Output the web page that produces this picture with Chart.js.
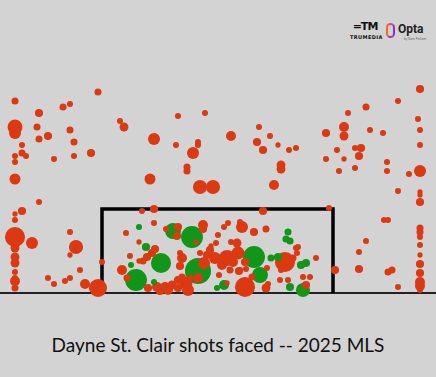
<!DOCTYPE html>
<html>
<head>
<meta charset="utf-8">
<script src="https://cdn.jsdelivr.net/npm/chart.js@4"></script>
<style>
  html, body { margin: 0; padding: 0; background: #d3d3d3; }
  body { width: 436px; height: 377px; position: relative; overflow: hidden; font-family: Lato, sans-serif; }
  #wrap { position: absolute; left: 0; top: 0; width: 436px; height: 300px; }
  #title { position: absolute; left: 0; top: 332px; width: 436px; text-align: center; font-size: 19px; color: #111; line-height: 26px; }
  .tm { position: absolute; left: 350px; top: 21px; width: 30px; text-align: center; }
  .tm .icon { font: bold 11px "DejaVu Sans", sans-serif; color: #111; letter-spacing: -1px; line-height: 11px; }
  .tm .txt { font: bold 5px "DejaVu Sans", sans-serif; color: #111; letter-spacing: 0.4px; line-height: 6px; margin-top: 2px; }
  .opta-mark { position: absolute; left: 386px; top: 23px; width: 5px; height: 11px; border: 2px solid #f36b21; border-right-color: #8a2be2; border-top-color: #e8457a; border-bottom-color: #b03aa8; border-radius: 5px; }
  .opta-txt { position: absolute; left: 398px; top: 22px; font: bold 12px Roboto, sans-serif; color: #222; }
  .opta-sub { position: absolute; left: 404px; top: 37px; font: 3px sans-serif; color: #666; }
</style>
</head>
<body>
<div class="tm"><div class="icon">=TM</div><div class="txt">TRUMEDIA</div></div>
<div class="opta-mark"></div>
<div class="opta-txt">Opta</div>
<div class="opta-sub">by Stats Perform</div>
<div id="wrap"><canvas id="shotsChart" width="436" height="300"></canvas></div>
<div id="title">Dayne St. Clair shots faced -- 2025 MLS</div>
<script>
// Ubicación de los tiros en la boca del arco (unidades ~pies, centro del arco = 0, suelo = 0)
const shotX = [
  -20.25, -11.95, -15.45, -14.75, -17.85, -20.25, -20.25, -18.05, -14.75, -16.95,
  -17.85, -14.35, -19.55, -19.55, -19.15, -20.25, -20.25, -16.35, -14.35, -12.65,
  -20.25, -9.75, -9.35, -6.35, -6.75, -3.95, -1.25, -4.15, -1.95, -1.95,
  -2.45, -3.05, -3.05, -1.75, -0.45, 1.35, 4.15, 3.95, 5.25, 4.55,
  6.05, 7.15, 7.85, 6.35, 6.35, 5.65, 10.85, 12.65, 12.65, 13.05,
  14.85, 18.05, 20.25, 20.05, 20.25, 20.25, 15.25, 16.55, 11.95, 13.75,
  14.35, 14.15, 12.65, 10.85, 12.15, 13.75, 16.95, 16.95, 19.15, 20.25,
  -17.85, -19.55, -20.25, -20.25, -20.25, -18.55, -20.25, -20.25, -20.25, -20.25,
  -20.25, -20.25, -20.25, -16.95, -16.35, -14.15, -14.75, -14.75, -13.75, -15.25,
  -14.75, -13.25, -11.95, -11.55, 18.05, 20.25, 20.25, 20.25, 16.65, 17.05,
  20.25, 20.25, 20.25, 20.25, 20.25, 20.25, 20.25, 20.25, 20.25, 20.25,
  18.05, 17.05, 17.45, 14.15, 14.85, 14.15, 11.75, 11.15, 4.55, -7.55,
  -6.35, -6.35, -7.85, -9.15, -7.85, -7.15, -6.25, -6.55, -7.05, -7.45,
  -8.75, -7.85, -8.65, -9.55, -9.05, -5.65, -8.15, -6.35, -6.95, -6.05,
  -5.25, -4.55, -3.95, -3.55, -5.15, -4.45, -3.95, -4.05, -2.55, -2.15,
  -1.45, -1.45, 0.05, 0.65, 1.05, 2.25, 2.45, 3.65, 4.85, -0.65,
  -0.15, 1.35, 1.95, -1.75, -3.75, -3.55, -3.75, -1.05, -1.35, 0.95,
  2.05, 1.25, 0.15, -1.95, -1.95, -2.75, -3.15, -2.95, -3.95, 0.65,
  0.95, -0.05, 2.75, 3.45, 2.25, 2.85, 3.65, 4.25, 2.15, 4.95,
  4.85, 5.05, 7.05, 6.85, 7.25, 7.85, 6.75, 5.35, 6.05, 6.35,
  6.25, 7.05, 7.25, 8.55, 8.35, 8.85, 8.85, 8.55, 9.25, 9.85,
  8.05, 7.95, 7.55, -0.25, 0.45, 1.55, -0.75, 2.75, -4.95, -5.75
];
const shotY = [
  19.2, 20.1, 18.6, 18.9, 18.0, 16.6, 16.0, 16.6, 16.3, 15.7,
  15.4, 15.1, 14.8, 14.0, 13.7, 13.7, 13.1, 13.4, 13.7, 14.0,
  11.4, 17.2, 16.6, 15.4, 11.4, 17.7, 18.0, 14.8, 15.1, 14.8,
  14.0, 12.6, 12.2, 10.6, 10.6, 15.7, 16.6, 15.1, 15.7, 14.3,
  14.8, 14.3, 14.5, 12.8, 12.4, 10.8, 16.0, 16.6, 15.7, 18.0,
  18.6, 19.2, 20.4, 17.4, 16.3, 14.8, 16.3, 16.0, 14.3, 14.5,
  14.5, 13.7, 13.4, 13.4, 12.2, 12.5, 13.1, 12.2, 11.9, 12.2,
  9.1, 8.2, 7.9, 7.3, 5.6, 5.0, 4.5, 3.6, 3.0, 2.1,
  1.5, 1.2, 0.5, 1.5, 0.9, 4.6, 6.1, 3.8, 2.3, 1.2,
  1.5, 0.9, 0.5, 3.1, 10.2, 10.1, 9.8, 9.1, 7.3, 7.3,
  6.5, 6.1, 5.6, 4.8, 3.8, 2.9, 2.0, 1.1, 0.7, 0.3,
  0.6, 2.1, 2.3, 4.1, 5.2, 2.4, 2.3, 8.5, 8.2, 8.2,
  8.4, 7.0, 6.6, 6.0, 5.1, 4.6, 4.4, 4.0, 3.6, 3.2,
  3.7, 3.2, 2.8, 2.3, 1.5, 3.0, 1.3, 1.1, 0.5, 0.6,
  0.6, 0.8, 1.3, 1.6, 6.4, 6.2, 6.6, 5.7, 5.6, 5.1,
  6.8, 6.4, 5.8, 6.6, 7.0, 7.1, 6.6, 6.1, 6.4, 4.7,
  5.0, 5.1, 5.0, 4.0, 4.0, 3.5, 2.7, 3.8, 3.0, 3.5,
  4.0, 2.3, 1.8, 2.2, 1.5, 1.5, 1.0, 0.3, 0.5, 0.8,
  1.0, 0.5, 0.6, 1.6, 2.3, 2.4, 3.6, 1.8, 2.2, 2.5,
  0.5, 0.9, 6.1, 5.4, 5.2, 4.5, 3.1, 3.5, 3.6, 2.3,
  1.3, 1.3, 0.6, 0.3, 2.8, 3.0, 0.8, 1.6, 1.6, 3.5,
  4.6, 4.0, 3.5, 3.5, 2.8, 3.1, 4.3, 3.1, 0.3, 0.2
];
// xG de cada tiro (define el tamaño del círculo)
const shotXg = [
  0.08, 0.08, 0.08, 0.04, 0.12, 0.38, 0.27, 0.08, 0.08, 0.12,
  0.08, 0.08, 0.04, 0.08, 0.04, 0.04, 0.04, 0.04, 0.04, 0.12,
  0.23, 0.04, 0.15, 0.27, 0.23, 0.04, 0.04, 0.04, 0.04, 0.04,
  0.27, 0.08, 0.08, 0.35, 0.35, 0.19, 0.04, 0.12, 0.04, 0.12,
  0.01, 0.04, 0.04, 0.15, 0.15, 0.19, 0.12, 0.19, 0.15, 0.04,
  0.08, 0.04, 0.12, 0.04, 0.04, 0.04, 0.04, 0.04, 0.04, 0.04,
  0.12, 0.12, 0.01, 0.04, 0.04, 0.04, 0.04, 0.04, 0.04, 0.27,
  0.04, 0.12, 0.01, 0.04, 0.58, 0.27, 0.15, 0.15, 0.15, 0.04,
  0.04, 0.19, 0.08, 0.04, 0.04, 0.35, 0.04, 0.01, 0.04, 0.04,
  0.04, 0.19, 0.50, 0.04, 0.04, 0.01, 0.01, 0.12, 0.04, 0.04,
  0.08, 0.08, 0.04, 0.04, 0.01, 0.12, 0.12, 0.19, 0.19, 0.04,
  0.04, 0.08, 0.08, 0.04, 0.04, 0.12, 0.12, 0.04, 0.12, 0.04,
  0.12, 0.04, 0.04, 0.04, 0.01, 0.12, 0.12, 0.12, 0.12, 0.08,
  0.04, 0.01, 0.04, 0.19, 0.08, 0.58, 0.65, 0.04, 0.12, 0.19,
  0.19, 0.15, 0.12, 0.08, 0.04, 0.42, 0.12, 0.12, 0.65, 0.01,
  0.19, 0.12, 0.04, 0.04, 0.04, 0.04, 0.27, 0.12, 0.08, 0.01,
  0.04, 0.04, 0.15, 0.04, 0.04, 0.19, 0.12, 0.12, 0.27, 0.42,
  0.31, 0.08, 0.04, 0.81, 0.19, 0.04, 0.31, 0.27, 0.12, 0.19,
  0.01, 0.04, 0.58, 0.08, 0.04, 0.04, 0.65, 0.42, 0.12, 0.04,
  0.15, 0.04, 0.08, 0.08, 0.08, 0.04, 0.58, 0.08, 0.12, 0.04,
  0.04, 0.04, 0.12, 0.35, 0.12, 0.12, 0.12, 0.04, 0.04, 0.04,
  0.04, 0.04, 0.08, 0.27, 0.19, 0.19, 0.12, 0.12, 0.19, 0.12
];
// Índices de los tiros atajados (verde); el resto en rojo
const savedShots = [122, 125, 132, 135, 136, 137, 145, 148, 173, 179, 181, 186, 187, 192, 193, 194, 197, 198, 202, 203, 204, 205];

// Arco y línea de fondo
const goalX = [-11.55, -11.55, 11.55, 11.55];
const goalY = [0, 8.4, 8.4, 0];
const groundX = [-21.75, 21.85];
const groundY = [0, 0];

const RED = '#dc3912';
const GREEN = '#109618';

// Armar los puntos, los más grandes se dibujan primero
const shots = shotX.map((x, i) => ({
    x: x,
    y: shotY[i],
    xg: shotXg[i],
    saved: savedShots.includes(i)
}));
shots.sort((a, b) => b.xg - a.xg);

function radiusFor(xg) {
    return 2.5 + 13 * xg;
}

const ctx = document.getElementById('shotsChart').getContext('2d');
const shotsChart = new Chart(ctx, {
    type: 'scatter',
    data: {
        datasets: [{
            label: 'Tiros',
            data: shots,
            pointRadius: shots.map(s => radiusFor(s.xg)),
            pointBackgroundColor: shots.map(s => s.saved ? GREEN : RED),
            pointBorderWidth: 0,
            pointBorderColor: 'rgba(0,0,0,0)',
            order: 1,
            clip: false
        }, {
            type: 'line',
            label: 'Arco',
            data: goalX.map((x, i) => ({ x: x, y: goalY[i] })),
            borderColor: '#000',
            borderWidth: 3.5,
            pointRadius: 0,
            fill: false,
            tension: 0,
            borderJoinStyle: 'miter',
            order: 2,
            clip: false
        }, {
            type: 'line',
            label: 'Suelo',
            data: groundX.map((x, i) => ({ x: x, y: groundY[i] })),
            borderColor: '#222',
            borderWidth: 2,
            pointRadius: 0,
            fill: false,
            order: 3,
            clip: false
        }]
    },
    options: {
        responsive: false,
        animation: false,
        layout: { autoPadding: false, padding: { left: 0, right: 0, top: 0, bottom: 7 } },
        plugins: {
            legend: { display: false },
            tooltip: { enabled: false }
        },
        scales: {
            x: { type: 'linear', min: -21.75, max: 21.85, display: false },
            y: { type: 'linear', min: 0, max: 29.3, display: false }
        }
    }
});
</script>
</body>
</html>
